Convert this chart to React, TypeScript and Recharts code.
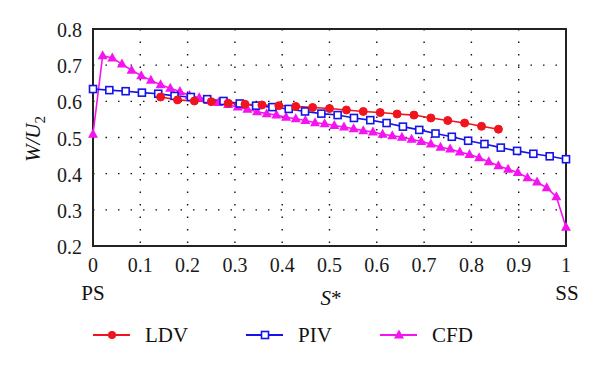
import { LineChart, Line, XAxis, YAxis, CartesianGrid, ReferenceArea } from 'recharts'

// S* positions and W/U2 values
const ldvS = [0.1429, 0.1786, 0.2143, 0.25, 0.2857, 0.3214, 0.3571, 0.3929, 0.4286, 0.4643, 0.5, 0.5357, 0.5714, 0.6071, 0.6429, 0.6786, 0.7143, 0.75, 0.7857, 0.8214, 0.8571]
const ldvW = [0.612, 0.604, 0.601, 0.599, 0.595, 0.592, 0.59, 0.588, 0.586, 0.583, 0.58, 0.576, 0.572, 0.569, 0.565, 0.562, 0.554, 0.547, 0.54, 0.531, 0.523]

const pivS = [0, 0.0345, 0.069, 0.1034, 0.1379, 0.1724, 0.2069, 0.2414, 0.2759, 0.3103, 0.3448, 0.3793, 0.4138, 0.4483, 0.4828, 0.5172, 0.5517, 0.5862, 0.6207, 0.6552, 0.6897, 0.7241, 0.7586, 0.7931, 0.8276, 0.8621, 0.8966, 0.931, 0.9655, 1]
const pivW = [0.634, 0.631, 0.628, 0.624, 0.621, 0.615, 0.612, 0.606, 0.601, 0.594, 0.588, 0.584, 0.579, 0.572, 0.566, 0.562, 0.554, 0.548, 0.54, 0.53, 0.521, 0.511, 0.502, 0.491, 0.482, 0.472, 0.463, 0.455, 0.448, 0.44]

const cfdS = [0, 0.0204, 0.0408, 0.0612, 0.0816, 0.102, 0.1224, 0.1429, 0.1633, 0.1837, 0.2041, 0.2245, 0.2449, 0.2653, 0.2857, 0.3061, 0.3265, 0.3469, 0.3673, 0.3878, 0.4082, 0.4286, 0.449, 0.4694, 0.4898, 0.5102, 0.5306, 0.551, 0.5714, 0.5918, 0.6122, 0.6327, 0.6531, 0.6735, 0.6939, 0.7143, 0.7347, 0.7551, 0.7755, 0.7959, 0.8163, 0.8367, 0.8571, 0.8776, 0.898, 0.9184, 0.9388, 0.9592, 0.9796, 1]
const cfdW = [0.509, 0.726, 0.72, 0.703, 0.686, 0.671, 0.658, 0.646, 0.636, 0.627, 0.616, 0.61, 0.602, 0.597, 0.591, 0.584, 0.578, 0.571, 0.566, 0.562, 0.556, 0.552, 0.547, 0.541, 0.538, 0.533, 0.529, 0.524, 0.519, 0.515, 0.509, 0.505, 0.501, 0.495, 0.489, 0.482, 0.473, 0.468, 0.46, 0.453, 0.444, 0.433, 0.422, 0.412, 0.403, 0.389, 0.377, 0.361, 0.336, 0.252]

const xTicks = [0, 0.1, 0.2, 0.3, 0.4, 0.5, 0.6, 0.7, 0.8, 0.9, 1]
const yTicks = [0.2, 0.3, 0.4, 0.5, 0.6, 0.7, 0.8]

const zip = (s: number[], w: number[]) => s.map((v, i) => ({ s: v, w: w[i] }))
const ldvData = zip(ldvS, ldvW)
const pivData = zip(pivS, pivW)
const cfdData = zip(cfdS, cfdW)

const RED = '#f0141e'
const BLUE = '#1414e6'
const MAGENTA = '#f514f0'
const FONT = '"Liberation Serif", "Times New Roman", serif'

const fmt = (v: number) => String(Math.round(v * 10) / 10)

const XTick = (p: any) => (
  <text x={p.x} y={p.y} dy='0.71em' textAnchor='middle' fontFamily={FONT} fontSize={20} fill='#1a1a1a'>
    {fmt(p.payload.value)}
  </text>
)
const YTick = (p: any) => (
  <text x={p.x} y={p.y} dy='0.4em' textAnchor='end' fontFamily={FONT} fontSize={20} fill='#1a1a1a'>
    {fmt(p.payload.value)}
  </text>
)

const circleDot = (p: any) => <circle key={p.index} cx={p.cx} cy={p.cy} r={4} fill={RED} stroke={RED} strokeWidth={1} />
const squareDot = (p: any) => <rect key={p.index} x={p.cx - 3.5} y={p.cy - 3.5} width={7} height={7} fill='#fff' stroke={BLUE} strokeWidth={1.6} />
const triangleDot = (p: any) => (
  <polygon key={p.index} points={`${p.cx},${p.cy - 5.5} ${p.cx + 5},${p.cy + 3.5} ${p.cx - 5},${p.cy + 3.5}`} fill={MAGENTA} />
)

function LegendItem({ x, color, label, marker }: { x: number; color: string; label: string; marker: 'circle' | 'square' | 'triangle' }) {
  const cx = x + 19
  const cy = 335
  return (
    <g>
      <line x1={x} x2={x + 37} y1={cy} y2={cy} stroke={color} strokeWidth={2} />
      {marker === 'circle' && <circle cx={cx} cy={cy} r={4} fill={color} />}
      {marker === 'square' && <rect x={cx - 3.5} y={cy - 3.5} width={7} height={7} fill='#fff' stroke={color} strokeWidth={1.6} />}
      {marker === 'triangle' && <polygon points={`${cx},${cy - 5.5} ${cx + 5},${cy + 3.5} ${cx - 5},${cy + 3.5}`} fill={color} />}
      <text x={x + 52} y={342} fontSize={21} fontFamily={FONT} fill='#111'>{label}</text>
    </g>
  )
}

export default function App() {
  return (
    <div style={{ position: 'absolute', left: 0, top: 0, width: 600, height: 366, background: '#fff', fontFamily: FONT }}>
      <LineChart width={600} height={366} margin={{ top: 29, right: 34, left: 33, bottom: 90 }}>
        <CartesianGrid stroke='#111' strokeDasharray='1.5 11' strokeWidth={1.4} />
        <XAxis
          type='number'
          dataKey='s'
          domain={[0, 1]}
          ticks={xTicks}
          interval={0}
          height={30}
          tickLine={false}
          axisLine={false}
          tickMargin={6}
          tick={XTick}
        />
        <YAxis
          type='number'
          domain={[0.2, 0.8]}
          ticks={yTicks}
          interval={0}
          width={60}
          tickLine={false}
          axisLine={false}
          tickMargin={5}
          tick={YTick}
        />
        <ReferenceArea x1={0} x2={1} y1={0.2} y2={0.8} fill='none' stroke='#222' strokeWidth={2} />
        <Line data={cfdData} dataKey='w' stroke={MAGENTA} strokeWidth={1.6} dot={triangleDot} isAnimationActive={false} />
        <Line data={pivData} dataKey='w' stroke={BLUE} strokeWidth={1.6} dot={squareDot} isAnimationActive={false} />
        <Line data={ldvData} dataKey='w' stroke={RED} strokeWidth={1.6} dot={circleDot} isAnimationActive={false} />
      </LineChart>
      <svg width={600} height={366} style={{ position: 'absolute', left: 0, top: 0, pointerEvents: 'none' }} fontFamily={FONT}>
        <text transform='translate(40,139) rotate(-90)' textAnchor='middle' fontSize={21} fontStyle='italic' fill='#111'>
          W/U<tspan fontStyle='normal' fontSize={15} dy={5}>2</tspan>
        </text>
        <text x={93} y={300} textAnchor='middle' fontSize={21} fill='#111'>PS</text>
        <text x={331} y={305} textAnchor='middle' fontSize={21} fill='#111'>
          <tspan fontStyle='italic'>S</tspan>*
        </text>
        <text x={567} y={300} textAnchor='middle' fontSize={21} fill='#111'>SS</text>
        <LegendItem x={93} color={RED} label='LDV' marker='circle' />
        <LegendItem x={246} color={BLUE} label='PIV' marker='square' />
        <LegendItem x={380} color={MAGENTA} label='CFD' marker='triangle' />
      </svg>
    </div>
  )
}
